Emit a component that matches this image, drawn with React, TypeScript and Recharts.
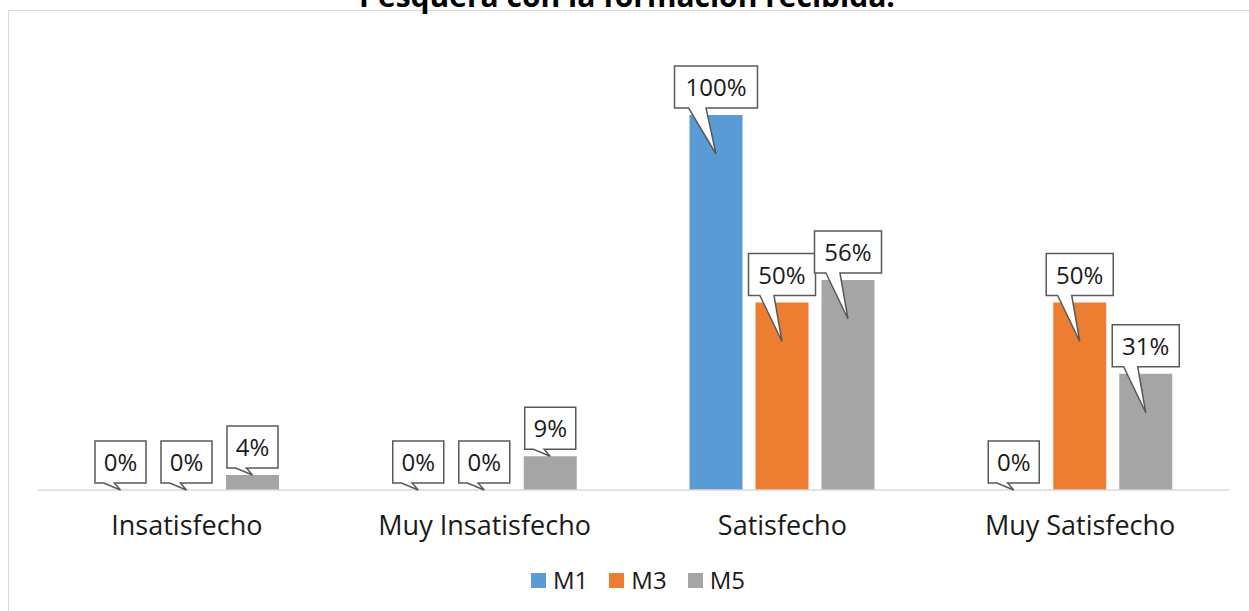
import React from "react";
import { BarChart, Bar, XAxis, YAxis, Legend, LabelList } from "recharts";

const categories = ["Insatisfecho", "Muy Insatisfecho", "Satisfecho", "Muy Satisfecho"];
const m1 = [0, 0, 100, 0];
const m3 = [0, 0, 50, 50];
const m5 = [4, 9, 56, 31];

const data = categories.map((c, i) => ({ name: c, M1: m1[i], M3: m3[i], M5: m5[i] }));

const FONT = "'Open Sans', sans-serif";

/* eslint-disable @typescript-eslint/no-explicit-any */
function Callout(props: any) {
  const { x, y, width, height, value } = props;
  if (value == null) return null;
  const text = `${value}%`;
  const w = 51 + (text.length - 2) * 16;
  const h = 42;
  const cx = x + width / 2;
  const left = cx - w / 2;
  const right = cx + w / 2;
  const barTop = value === 0 ? y + height : y;
  const bottom = barTop - 7;
  const top = bottom - h;
  const tipY = barTop + (height > 60 ? 39 : 0);
  const d = `M${left},${top} L${right},${top} L${right},${bottom} L${cx - 0.12 * w},${bottom} L${cx},${tipY} L${cx - 0.33 * w},${bottom} L${left},${bottom} Z`;
  return (
    <g>
      <path d={d} fill="#fff" stroke="#595959" strokeWidth={1.5} strokeLinejoin="miter" />
      <text x={cx} y={top + h / 2 + 9} textAnchor="middle" fontSize={24} fontFamily={FONT} fill="#1a1a1a">{text}</text>
    </g>
  );
}

function LegendRow({ payload }: any) {
  return (
    <div style={{ display: "flex", alignItems: "center", fontFamily: FONT, fontSize: 24, color: "#1a1a1a" }}>
      {(payload || []).map((e: any) => (
        <div key={e.value} style={{ display: "flex", alignItems: "center", marginRight: 21 }}>
          <span style={{ width: 15, height: 15, background: e.color, display: "inline-block", marginRight: 7 }} />
          <span style={{ lineHeight: "20px" }}>{e.value}</span>
        </div>
      ))}
    </div>
  );
}
/* eslint-enable @typescript-eslint/no-explicit-any */

export default function App() {
  return (
    <div style={{ position: "absolute", left: 0, top: 0, width: 1249, height: 611, overflow: "hidden", background: "#fff" }}>
      <div style={{ position: "absolute", left: 8, top: 10, width: 1400, height: 800, border: "1.5px solid #d9d9d9" }} />
      <div style={{ position: "absolute", left: 0, top: -22, width: 1254, textAlign: "center", fontFamily: FONT, fontWeight: 700, fontSize: 30, lineHeight: "36px", color: "#000", whiteSpace: "nowrap" }}>
        Pesquera con la formación recibida.
      </div>
      <div style={{ position: "absolute", left: 0, top: 0 }}>
        <BarChart width={1249} height={611} data={data} margin={{ top: 115, right: 20, bottom: 0, left: 38 }} barCategoryGap={56} barGap={13}>
          <XAxis dataKey="name" height={121} axisLine={{ stroke: "#d9d9d9", strokeWidth: 1.5 }} tickLine={false} tickSize={0} tickMargin={26}
            tick={{ fill: "#1a1a1a", fontSize: 27, fontFamily: FONT }} interval={0} />
          <YAxis hide domain={[0, 100]} />
          <Legend layout="horizontal" verticalAlign="middle" align="center" wrapperStyle={{ top: 570, left: 531, width: 400 }} content={<LegendRow />} />
          <Bar dataKey="M1" name="M1" fill="#5b9bd5" minPointSize={0.1} isAnimationActive={false}>
            <LabelList dataKey="M1" content={<Callout />} />
          </Bar>
          <Bar dataKey="M3" name="M3" fill="#ed7d31" minPointSize={0.1} isAnimationActive={false}>
            <LabelList dataKey="M3" content={<Callout />} />
          </Bar>
          <Bar dataKey="M5" name="M5" fill="#a5a5a5" minPointSize={0.1} isAnimationActive={false}>
            <LabelList dataKey="M5" content={<Callout />} />
          </Bar>
        </BarChart>
      </div>
    </div>
  );
}
